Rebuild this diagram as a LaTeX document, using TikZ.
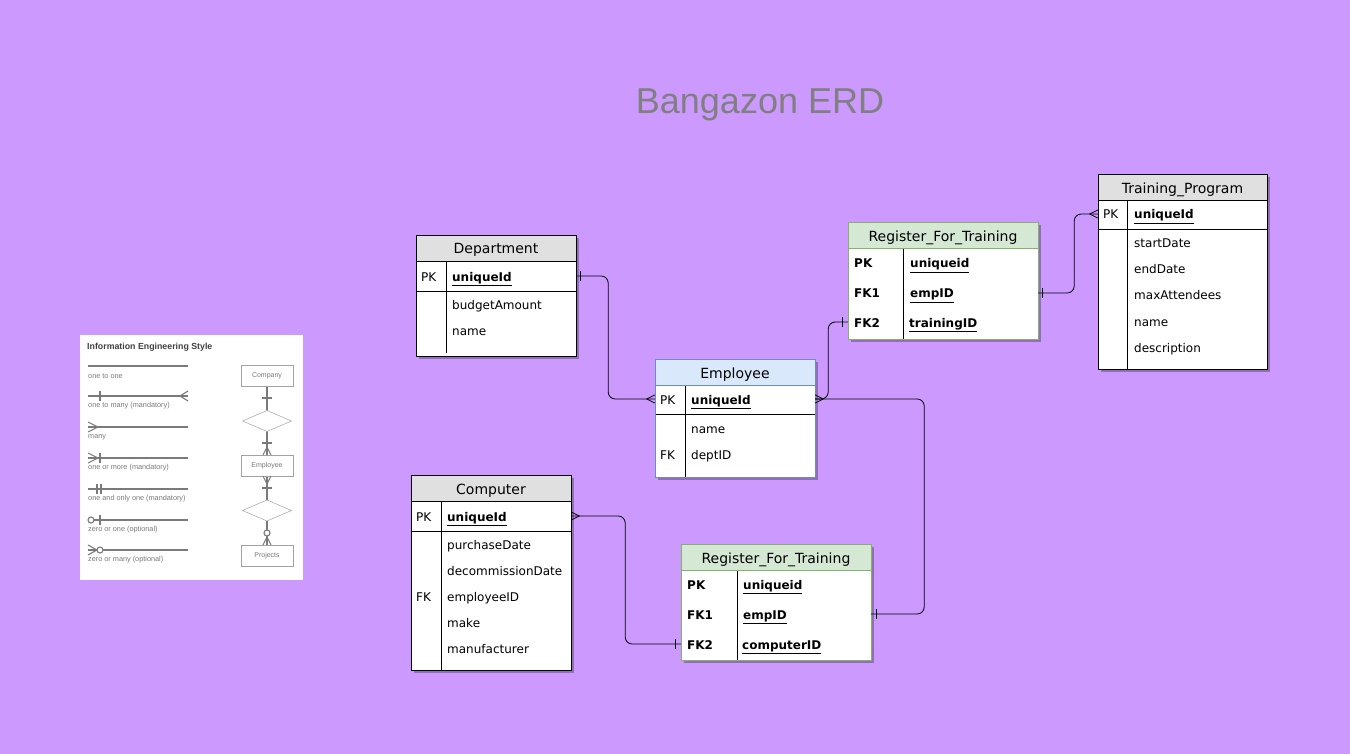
\documentclass[tikz,border=0pt]{standalone}
\usepackage{fontspec}
\setmainfont{DejaVu Sans}
\newfontfamily\titlefont{Liberation Sans}
\usetikzlibrary{calc}
\definecolor{bgpurple}{HTML}{CC99FF}
\definecolor{hdrgray}{HTML}{E0E0E0}
\definecolor{hdrblue}{HTML}{DAE8FC}
\definecolor{bordblue}{HTML}{6C8EBF}
\definecolor{hdrgreen}{HTML}{D5E8D4}
\definecolor{bordgreen}{HTML}{82B366}
\definecolor{titlegray}{HTML}{808080}
\definecolor{leggray}{HTML}{7A7A7A}
\begin{document}
\begin{tikzpicture}[x=1pt,y=-1pt,
  tshadow/.style={fill=black,opacity=0.28},
  tline/.style={draw=black,line width=0.9pt},
  hdr/.style={anchor=base,inner sep=0,font=\fontsize{14}{16}\selectfont},
  fld/.style={anchor=base west,inner sep=0,font=\fontsize{12}{14}\selectfont},
  bfld/.style={fld,font=\fontsize{12}{14}\selectfont\bfseries},
  rowbox/.style={inner sep=0,minimum height=26,draw=none},
  conn/.style={draw=black,line width=0.8pt},
  route/.style={conn,rounded corners=7},
  legline/.style={draw=leggray,line width=2pt},
  legmark/.style={draw=leggray,line width=1.1pt},
  legtxt/.style={anchor=west,inner sep=0,text=leggray,font=\titlefont\fontsize{7.3}{8}\selectfont},
  legbox/.style={draw=leggray!70,fill=white,line width=0.5pt},
  legent/.style={legbox,minimum width=52,minimum height=21,inner sep=0,text=leggray,font=\titlefont\fontsize{7}{8}\selectfont},
]
\useasboundingbox (0,0) rectangle (1350,754);
\fill[bgpurple] (0,0) rectangle (1350,754);

% title
\node[anchor=base,inner sep=0,text=titlegray,font=\titlefont\fontsize{36}{40}\selectfont] (title) at (760,114) {Bangazon ERD};

% ---------------- legend ----------------
\fill[white] (80,335) rectangle (303,580);
\node[anchor=west,inner sep=0,text=black!75,font=\titlefont\bfseries\fontsize{8.8}{10}\selectfont] (legtitle) at (87,347) {Information Engineering Style};
\foreach \yy/\txt in {366/one to one,396/one to many (mandatory),427/many,458/one or more (mandatory),489/one and only one (mandatory),520/zero or one (optional),550/zero or many (optional)}{
  \draw[legline] (88,\yy) -- (188,\yy);
  \node[legtxt] at (88,\yy+10) {\txt};
}
% one to many
\draw[legmark] (100,391) -- (100,401);
\draw[legmark] (188,391) -- (180,396) -- (188,401);
% many
\draw[legmark] (88,422) -- (98,427) -- (88,432);
% one or more
\draw[legmark] (88,453) -- (98,458) -- (88,463);
\draw[legmark] (100,453) -- (100,463);
% one and only one
\draw[legmark] (97,484) -- (97,494);
\draw[legmark] (101,484) -- (101,494);
% zero or one
\draw[legmark,fill=white] (91,520) circle (3);
\draw[legmark] (100,515) -- (100,525);
% zero or many
\draw[legmark] (88,545) -- (97,550) -- (88,555);
\draw[legmark,fill=white] (100,550) circle (3);
% right column
\draw[legmark] (267,386) -- (267,545);
\draw[legbox] (267,410.5) -- (291.5,421) -- (267,431.5) -- (242.5,421) -- cycle;
\draw[legbox] (267,500) -- (291.5,510.5) -- (267,521) -- (242.5,510.5) -- cycle;
\node[legent] (lcomp) at (267,375.5) {Company};
\node[legent] (lemp) at (267,465.5) {Employee};
\node[legent] (lproj) at (267,555.5) {Projects};
\draw[legmark] (262,398) -- (272,398);
\draw[legmark] (262,443) -- (272,443);
\draw[legmark] (263,455) -- (267,447) -- (271,455);
\draw[legmark] (263,476) -- (267,484) -- (271,476);
\draw[legmark] (262,488) -- (272,488);
\draw[legmark,fill=white] (267,533) circle (3);
\draw[legmark] (263,545) -- (267,537) -- (271,545);

% ---------------- Department ----------------
\fill[tshadow] (419,238) rectangle (579,359);
\fill[white] (416,235) rectangle (576,356);
\fill[hdrgray] (416,235) rectangle (576,261);
\draw[tline] (416,261) -- (576,261) (416,291) -- (576,291) (446,261) -- (446,353);
\draw[tline] (416,235) rectangle (576,356);
\node[hdr] (dephdr) at (496,254) {Department};
\node[rowbox,minimum width=160] (deppk) at (496,276) {};
\node[fld] at (421,281) {PK};
\node[bfld] at (452,281) {\underline{uniqueId}};
\node[fld] at (452,309) {budgetAmount};
\node[fld] at (452,335) {name};

% ---------------- Employee ----------------
\fill[tshadow] (658,362) rectangle (818,480);
\fill[white] (655,359) rectangle (815,477);
\fill[hdrblue] (655,359) rectangle (815,385);
\draw[tline] (655,414) -- (815,414) (685,385) -- (685,477);
\draw[draw=bordblue,line width=0.9pt] (655,385) -- (815,385);
\draw[draw=bordblue,line width=0.9pt] (655,359) rectangle (815,477);
\node[hdr] (emphdr) at (735,378.5) {Employee};
\node[rowbox,minimum width=160] (emppk) at (735,399) {};
\node[fld] at (660,404) {PK};
\node[bfld] at (691,404) {\underline{uniqueId}};
\node[fld] at (691,433) {name};
\node[fld] at (660,459) {FK};
\node[fld] at (691,459) {deptID};

% ---------------- Computer ----------------
\fill[tshadow] (414,478) rectangle (574,673);
\fill[white] (411,475) rectangle (571,670);
\fill[hdrgray] (411,475) rectangle (571,501);
\draw[tline] (411,501) -- (571,501) (411,531) -- (571,531) (441,501) -- (441,670);
\draw[tline] (411,475) rectangle (571,670);
\node[hdr] (cmphdr) at (491,494.5) {Computer};
\node[rowbox,minimum width=160] (cmppk) at (491,516) {};
\node[fld] at (416,521) {PK};
\node[bfld] at (447,521) {\underline{uniqueId}};
\node[fld] at (447,549) {purchaseDate};
\node[fld] at (447,575) {decommissionDate};
\node[fld] at (416,601) {FK};
\node[fld] at (447,601) {employeeID};
\node[fld] at (447,627) {make};
\node[fld] at (447,653) {manufacturer};

% ---------------- Register_For_Training (top) ----------------
\fill[tshadow] (851,225) rectangle (1041,342);
\fill[white] (848,222) rectangle (1038,339);
\fill[hdrgreen] (848,222) rectangle (1038,248);
\draw[tline] (903,248) -- (903,339);
\draw[draw=bordgreen,line width=0.9pt] (848,248) -- (1038,248);
\draw[draw=bordgreen,line width=0.9pt] (848,222) rectangle (1038,339);
\node[hdr] (rthdr) at (943,241.5) {Register\_For\_Training};
\node[rowbox,minimum width=190] (rtpk) at (943,263) {};
\node[rowbox,minimum width=190] (rtfk1) at (943,293) {};
\node[rowbox,minimum width=190] (rtfk2) at (943,322) {};
\node[bfld] at (854,268) {PK};
\node[bfld] at (910,268) {\underline{uniqueid}};
\node[bfld] at (854,298) {FK1};
\node[bfld] at (910,298) {\underline{empID}};
\node[bfld] at (854,327) {FK2};
\node[bfld] at (909,327) {\underline{trainingID}};

% ---------------- Register_For_Training (bottom) ----------------
\fill[tshadow] (684,547) rectangle (874,663);
\fill[white] (681,544) rectangle (871,660);
\fill[hdrgreen] (681,544) rectangle (871,570);
\draw[tline] (737,570) -- (737,660);
\draw[draw=bordgreen,line width=0.9pt] (681,570) -- (871,570);
\draw[draw=bordgreen,line width=0.9pt] (681,544) rectangle (871,660);
\node[hdr] (rbhdr) at (776,563.5) {Register\_For\_Training};
\node[rowbox,minimum width=190] (rbpk) at (776,584) {};
\node[rowbox,minimum width=190] (rbfk1) at (776,614) {};
\node[rowbox,minimum width=190] (rbfk2) at (776,644) {};
\node[bfld] at (687,589) {PK};
\node[bfld] at (743,589) {\underline{uniqueid}};
\node[bfld] at (687,619) {FK1};
\node[bfld] at (743,619) {\underline{empID}};
\node[bfld] at (687,649) {FK2};
\node[bfld] at (742,649) {\underline{computerID}};

% ---------------- Training_Program ----------------
\fill[tshadow] (1101,177) rectangle (1270,372);
\fill[white] (1098,174) rectangle (1267,369);
\fill[hdrgray] (1098,174) rectangle (1267,200);
\draw[tline] (1098,200) -- (1267,200) (1098,229) -- (1267,229) (1127,200) -- (1127,369);
\draw[tline] (1098,174) rectangle (1267,369);
\node[hdr] (tphdr) at (1182.5,193.5) {Training\_Program};
\node[rowbox,minimum width=169] (tppk) at (1182.5,214) {};
\node[fld] at (1103,219) {PK};
\node[bfld] at (1134,219) {\underline{uniqueId}};
\node[fld] at (1134,248) {startDate};
\node[fld] at (1134,274) {endDate};
\node[fld] at (1134,300) {maxAttendees};
\node[fld] at (1134,326) {name};
\node[fld] at (1134,352) {description};

% ---------------- connectors ----------------
\draw[route] (deppk.east) -- ++(32,0) |- (emppk.west);
\draw[route] (emppk.east) -- ++(13,0) |- (rtfk2.west);
\draw[route] (emppk.east) -- ++(109,0) |- (rbfk1.east);
\draw[route] (rtfk1.east) -- ++(36,0) |- (tppk.west);
\draw[route] (cmppk.east) -- ++(54,0) |- (rbfk2.west);

% end markers: one (tick)
\draw[conn] ($(deppk.east)+(4,-5)$) -- ($(deppk.east)+(4,5)$);
\draw[conn] ($(rtfk2.west)+(-5,-5)$) -- ($(rtfk2.west)+(-5,5)$);
\draw[conn] ($(rbfk1.east)+(5,-5)$) -- ($(rbfk1.east)+(5,5)$);
\draw[conn] ($(rtfk1.east)+(4,-5)$) -- ($(rtfk1.east)+(4,5)$);
\draw[conn] ($(rbfk2.west)+(-5,-5)$) -- ($(rbfk2.west)+(-5,5)$);
% end markers: many (crow's foot)
\draw[conn] ($(emppk.west)+(0,-4)$) -- ($(emppk.west)+(-8,0)$) -- ($(emppk.west)+(0,4)$);
\draw[conn] ($(emppk.east)+(0,-4)$) -- ($(emppk.east)+(8,0)$) -- ($(emppk.east)+(0,4)$);
\draw[conn] ($(tppk.west)+(0,-4)$) -- ($(tppk.west)+(-8,0)$) -- ($(tppk.west)+(0,4)$);
\draw[conn] ($(cmppk.east)+(0,-4)$) -- ($(cmppk.east)+(8,0)$) -- ($(cmppk.east)+(0,4)$);
\end{tikzpicture}
\end{document}
